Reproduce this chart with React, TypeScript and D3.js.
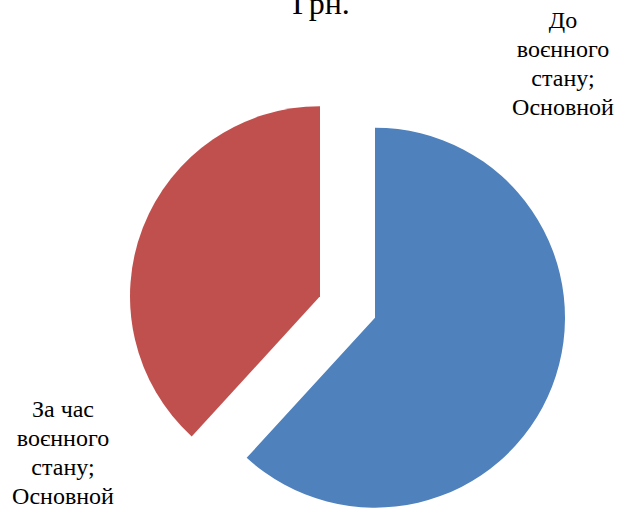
import React from 'react';
import * as d3 from 'd3';

const categories = ['До воєнного стану', 'За час воєнного стану'];
const seriesName = 'Основной';
const values = [61.8, 38.2];
const colors = ['#4F81BD', '#C0504D'];
const title = 'Грн.';

const labelLines = [
  ['До', 'воєнного', 'стану;', seriesName],
  ['За час', 'воєнного', 'стану;', seriesName],
];

const W = 619;
const H = 510;
const FONT = '"Liberation Serif", "DejaVu Serif", "Noto Serif", Tinos, "Times New Roman", Times, serif';

const App: React.FC = () => {
  const cx = 347.5;
  const cy = 307;
  const radius = 190;
  const explode = 29.5;

  const pie = d3.pie<number>().sort(null).startAngle(0).endAngle(2 * Math.PI);
  const arcs = pie(values);
  const arc = d3.arc<d3.PieArcDatum<number>>().innerRadius(0).outerRadius(radius);

  // позиции подписей как в оригинале
  const labelPos = [
    { x: 563, y: 28 },
    { x: 63, y: 417 },
  ];

  return (
    <div style={{ position: 'absolute', left: 0, top: 0, width: W, height: H, background: '#fff' }}>
      <svg width={W} height={H} style={{ display: 'block', fontFamily: FONT }}>
        <text x={321} y={14} textAnchor="middle" fontSize={32} fill="#000">
          {title}
        </text>
        <g transform={`translate(${cx},${cy})`}>
          {arcs.map((a, i) => {
            const mid = (a.startAngle + a.endAngle) / 2;
            const dx = Math.sin(mid) * explode;
            const dy = -Math.cos(mid) * explode;
            return (
              <path
                key={categories[i]}
                d={arc(a) || ''}
                transform={`translate(${dx},${dy})`}
                fill={colors[i]}
              />
            );
          })}
        </g>
        {labelLines.map((lines, i) => (
          <text key={i} x={labelPos[i].x} y={labelPos[i].y} textAnchor="middle" fontSize={24} fill="#000">
            {lines.map((l, j) => (
              <tspan key={j} x={labelPos[i].x} dy={j === 0 ? 0 : 29}>
                {l}
              </tspan>
            ))}
          </text>
        ))}
      </svg>
    </div>
  );
};

export default App;
